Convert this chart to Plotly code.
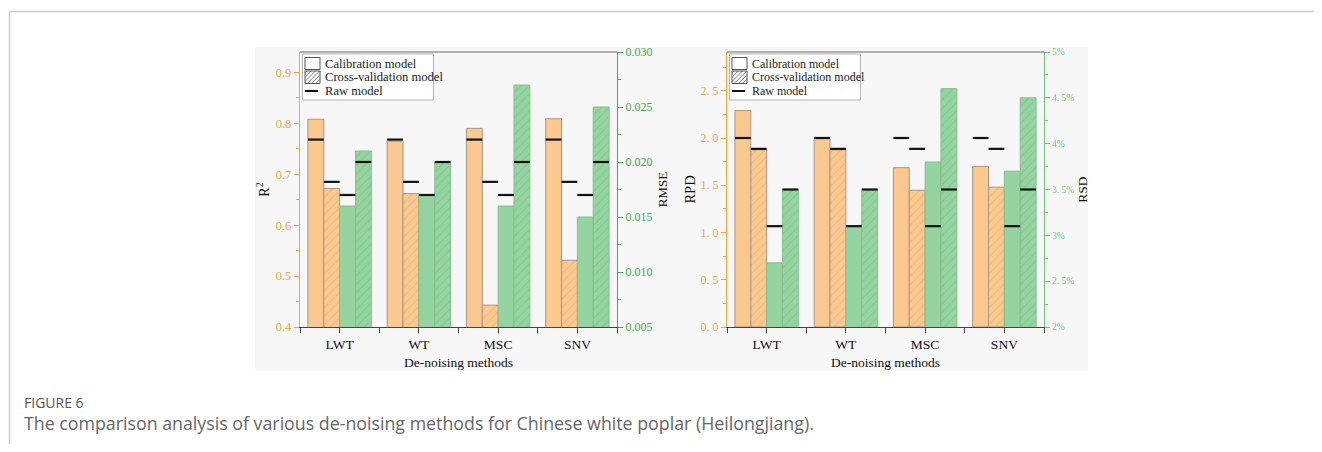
import plotly.graph_objects as go

# ---------------- data ----------------
methods = ["LWT", "WT", "MSC", "SNV"]

r2_cal = [0.808, 0.765, 0.790, 0.809]
r2_cv = [0.672, 0.662, 0.443, 0.531]
rmse_cal = [0.0160, 0.0170, 0.0160, 0.0150]
rmse_cv = [0.0210, 0.0200, 0.0270, 0.0250]
raw_r2_cal = [0.768, 0.768, 0.768, 0.768]
raw_r2_cv = [0.685, 0.685, 0.685, 0.685]
raw_rmse_cal = [0.0170, 0.0170, 0.0170, 0.0170]
raw_rmse_cv = [0.0200, 0.0200, 0.0200, 0.0200]

rpd_cal = [2.29, 1.995, 1.686, 1.70]
rpd_cv = [1.875, 1.875, 1.447, 1.48]
rsd_cal = [2.70, 3.10, 3.80, 3.70]   # percent
rsd_cv = [3.50, 3.50, 4.60, 4.50]    # percent
raw_rpd_cal = [2.0, 2.0, 2.0, 2.0]
raw_rpd_cv = [1.885, 1.885, 1.885, 1.885]
raw_rsd_cal = [3.1, 3.1, 3.1, 3.1]
raw_rsd_cv = [3.5, 3.5, 3.5, 3.5]

r2_ticks = [0.4, 0.5, 0.6, 0.7, 0.8, 0.9]
rmse_ticks = [0.005, 0.010, 0.015, 0.020, 0.025, 0.030]
rpd_ticks = [0.0, 0.5, 1.0, 1.5, 2.0, 2.5]
rpd_ticktext = ["0. 0", "0. 5", "1. 0", "1. 5", "2. 0", "2. 5"]
rsd_ticks = [2.0, 2.5, 3.0, 3.5, 4.0, 4.5, 5.0]
rsd_ticktext = ["2%", "2. 5%", "3%", "3. 5%", "4%", "4. 5%", "5%"]

legend_labels = ["Calibration model", "Cross-validation model", "Raw model"]

# ---------------- style ----------------
PAGE_W, PAGE_H = 1322, 452
BODY_M = 8                      # default browser body margin
W, H = PAGE_W - 2 * BODY_M, PAGE_H - 2 * BODY_M
SERIF = "Liberation Serif"
ORANGE_AX = "#F3A53F"
GREEN_AX = "#3FA94B"
GREEN_AX2 = "#72C47B"
ORANGE_FILL = "#FBC98F"
ORANGE_HATCH = "#E7A66A"
GREEN_FILL = "#95D4A1"
GREEN_HATCH = "#6DBD7B"
BAR_EDGE = "#A5968A"
GREEN_EDGE = "#86BE90"

BW = 0.2
OFFS = [-0.4, -0.2, 0.0, 0.2]

# page-pixel geometry
px_l, px_r = 300, 617
px_l2, px_r2 = 727, 1044
py_t, py_b = 52, 327
plot_h = py_b - py_t

x_idx = list(range(len(methods)))

r2_range = [0.4, 0.94]
rmse_range = [0.005, 0.030]
rpd_range = [0.0, 2.91]
rsd_range = [2.0, 5.0]


def thick(rng, px=2.2):
    return px * (rng[1] - rng[0]) / plot_h / 2


def PX(x):
    return min(1.0, max(0.0, (x - BODY_M) / W))


def PY(y):
    return min(1.0, max(0.0, (H - (y - BODY_M)) / H))


fig = go.Figure()


def value_bar(y, off, color, edge, xa, ya, hatch=None):
    pat = dict(shape="/", fgcolor=hatch, size=6, solidity=0.18) if hatch else None
    fig.add_trace(go.Bar(
        x=x_idx, y=y, width=BW, offset=off, xaxis=xa, yaxis=ya,
        marker=dict(color=color, line=dict(color=edge, width=1), pattern=pat),
        showlegend=False, hoverinfo="skip"))


def raw_bar(vals, off, rng, xa, ya):
    d = thick(rng)
    fig.add_trace(go.Bar(
        x=x_idx, y=[2 * d] * len(vals), base=[v - d for v in vals], width=BW, offset=off,
        xaxis=xa, yaxis=ya, marker=dict(color="#111111", line=dict(width=0)),
        showlegend=False, hoverinfo="skip"))


# left chart
value_bar(r2_cal, OFFS[0], ORANGE_FILL, BAR_EDGE, "x", "y")
value_bar(r2_cv, OFFS[1], ORANGE_FILL, BAR_EDGE, "x", "y", ORANGE_HATCH)
value_bar(rmse_cal, OFFS[2], GREEN_FILL, GREEN_EDGE, "x", "y2")
value_bar(rmse_cv, OFFS[3], GREEN_FILL, GREEN_EDGE, "x", "y2", GREEN_HATCH)
raw_bar(raw_r2_cal, OFFS[0], r2_range, "x", "y")
raw_bar(raw_r2_cv, OFFS[1], r2_range, "x", "y")
raw_bar(raw_rmse_cal, OFFS[2], rmse_range, "x", "y2")
raw_bar(raw_rmse_cv, OFFS[3], rmse_range, "x", "y2")

# right chart
value_bar(rpd_cal, OFFS[0], ORANGE_FILL, BAR_EDGE, "x2", "y3")
value_bar(rpd_cv, OFFS[1], ORANGE_FILL, BAR_EDGE, "x2", "y3", ORANGE_HATCH)
value_bar(rsd_cal, OFFS[2], GREEN_FILL, GREEN_EDGE, "x2", "y4")
value_bar(rsd_cv, OFFS[3], GREEN_FILL, GREEN_EDGE, "x2", "y4", GREEN_HATCH)
raw_bar(raw_rpd_cal, OFFS[0], rpd_range, "x2", "y3")
raw_bar(raw_rpd_cv, OFFS[1], rpd_range, "x2", "y3")
raw_bar(raw_rsd_cal, OFFS[2], rsd_range, "x2", "y4")
raw_bar(raw_rsd_cv, OFFS[3], rsd_range, "x2", "y4")

xd1 = [PX(px_l), PX(px_r)]
xd2 = [PX(px_l2), PX(px_r2)]
yd = [PY(py_b), PY(py_t)]


def xaxis(domain, anchor):
    return dict(domain=domain, anchor=anchor, range=[-0.5, len(methods) - 0.5], automargin=False,
                tickmode="array", tickvals=x_idx, ticktext=methods,
                showline=True, linecolor="#444", linewidth=1.3,
                ticks="outside", ticklen=5, tickcolor="#444",
                minor=dict(ticks="outside", ticklen=5, tick0=0.5, dtick=1, tickcolor="#444"),
                showgrid=False, zeroline=False,
                tickfont=dict(family=SERIF, size=13.5, color="#111"),
                title=dict(text="De-noising methods", font=dict(family=SERIF, size=13.5, color="#111"),
                           standoff=6))


def yaxis(domain, anchor, rng, vals, text, color, side, title, fsize, tsize, dt, standoff, overlay=None):
    d = dict(domain=domain, anchor=anchor, range=rng, side=side, automargin=False,
             tickmode="array", tickvals=vals, ticktext=text,
             showline=True, linecolor=color, linewidth=1.3,
             ticks="outside", ticklen=5, tickcolor=color,
             minor=dict(ticks="outside", ticklen=3, dtick=dt, tick0=rng[0], tickcolor=color),
             showgrid=False, zeroline=False,
             tickfont=dict(family=SERIF, size=fsize, color=color),
             title=dict(text=title, font=dict(family=SERIF, size=tsize, color="#111"), standoff=standoff))
    if overlay:
        d["overlaying"] = overlay
    return d


# ---------------- frame, panel and hand-drawn legends ----------------
shapes = [
    # grey figure panel
    dict(type="rect", xref="paper", yref="paper", x0=PX(255), x1=PX(1088),
         y0=PY(371), y1=PY(47), fillcolor="#f7f7f7", line=dict(width=0), layer="below"),
    # page frame
    dict(type="line", xref="paper", yref="paper", x0=PX(9.5), x1=1.0, y0=PY(11.5), y1=PY(11.5),
         line=dict(color="#cccccc", width=1.5)),
    dict(type="line", xref="paper", yref="paper", x0=PX(9.5), x1=PX(9.5), y0=0, y1=PY(11.5),
         line=dict(color="#cccccc", width=1.5)),
    # top frames of plots
    dict(type="line", xref="paper", yref="paper", x0=xd1[0], x1=xd1[1], y0=yd[1], y1=yd[1],
         line=dict(color="#999", width=1.3)),
    dict(type="line", xref="paper", yref="paper", x0=xd2[0], x1=xd2[1], y0=yd[1], y1=yd[1],
         line=dict(color="#999", width=1.3)),
]
annotations = []


def hatch_path(x0, y0, x1, y1, step=4.2):
    parts = []
    c = x0 + y0 + step * 0.5
    while c < x1 + y1:
        xa = max(x0, c - y1)
        xb = min(x1, c - y0)
        if xb > xa:
            parts.append(f"M{PX(xa):.5f},{PY(c - xa):.5f} L{PX(xb):.5f},{PY(c - xb):.5f}")
        c += step
    return " ".join(parts)


def add_legend(ax_px, box_w, fsize):
    bx0, bx1, by0, by1 = ax_px + 2.5, ax_px + 2.5 + box_w, 54, 100
    shapes.append(dict(type="rect", xref="paper", yref="paper", x0=PX(bx0), x1=PX(bx1), y0=PY(by1), y1=PY(by0),
                       fillcolor="white", line=dict(color="#b5b5b5", width=1)))
    sx0, sx1 = bx0 + 2.5, bx0 + 17.5
    rows = [63.5, 77.0, 91.0]
    shapes.append(dict(type="rect", xref="paper", yref="paper", x0=PX(sx0), x1=PX(sx1),
                       y0=PY(69.5), y1=PY(57.5), fillcolor="white", line=dict(color="#555", width=1)))
    shapes.append(dict(type="rect", xref="paper", yref="paper", x0=PX(sx0), x1=PX(sx1),
                       y0=PY(83.5), y1=PY(71.0), fillcolor="white", line=dict(color="#555", width=1)))
    shapes.append(dict(type="path", xref="paper", yref="paper", path=hatch_path(sx0, 71.0, sx1, 83.5),
                       line=dict(color="#555", width=0.8)))
    shapes.append(dict(type="line", xref="paper", yref="paper", x0=PX(sx0), x1=PX(sx0 + 13),
                       y0=PY(rows[2]), y1=PY(rows[2]), line=dict(color="#111", width=2)))
    for lab, ry in zip(legend_labels, rows):
        annotations.append(dict(text=lab, xref="paper", yref="paper", x=PX(bx0 + 20), y=PY(ry),
                                xanchor="left", yanchor="middle", showarrow=False,
                                font=dict(family=SERIF, size=fsize, color="#222")))


add_legend(px_l, 131, 12.6)
add_legend(px_l2, 131, 12.0)

annotations += [
    dict(text="FIGURE 6", xref="paper", yref="paper", x=PX(22), y=PY(402),
         xanchor="left", yanchor="middle", showarrow=False,
         font=dict(family="Open Sans", size=14, color="#555")),
    dict(text="The comparison analysis of various de-noising methods for Chinese white poplar (Heilongjiang).",
         xref="paper", yref="paper", x=PX(22), y=PY(423),
         xanchor="left", yanchor="middle", showarrow=False,
         font=dict(family="Open Sans", size=17.8, color="#666")),
]

fig.update_layout(
    width=W, height=H,
    margin=dict(l=0, r=0, t=0, b=0, autoexpand=False),
    paper_bgcolor="white", plot_bgcolor="white",
    barmode="overlay", showlegend=False,
    xaxis=xaxis(xd1, "y"),
    xaxis2=xaxis(xd2, "y3"),
    yaxis=yaxis(yd, "x", r2_range, r2_ticks, [f"{v:.1f}" for v in r2_ticks], ORANGE_AX, "left",
                "R<sup>2</sup>", 12.5, 14, 0.05, 2),
    yaxis2=yaxis(yd, "x", rmse_range, rmse_ticks, [f"{v:.3f}" for v in rmse_ticks], GREEN_AX, "right",
                 "RMSE", 12, 13, 0.0025, 6, overlay="y"),
    yaxis3=yaxis(yd, "x2", rpd_range, rpd_ticks, rpd_ticktext, ORANGE_AX, "left",
                 "RPD", 12, 14.5, 0.25, 1),
    yaxis4=yaxis(yd, "x2", rsd_range, rsd_ticks, rsd_ticktext, GREEN_AX2, "right",
                 "RSD", 9.5, 13.5, 0.25, 4, overlay="y3"),
    shapes=shapes,
    annotations=annotations,
)

fig.write_html("out.html", config={"displayModeBar": False})
